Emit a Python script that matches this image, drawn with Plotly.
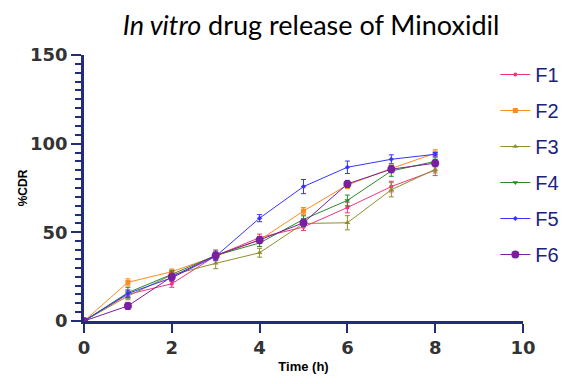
import plotly.graph_objects as go

time_h = [0, 1, 2, 3, 4, 5, 6, 7, 8]
names = ["F1", "F2", "F3", "F4", "F5", "F6"]
f1 = [0, 15, 21, 36.8, 47, 53, 64, 75.8, 85]
f2 = [0, 21.8, 27.8, 36.5, 45.7, 62, 76.7, 86, 94.6]
f3 = [0, 14, 26, 32.5, 38.5, 55, 55.4, 74, 85.5]
f4 = [0, 16, 26.3, 37, 44, 57.3, 68, 84.6, 90]
f5 = [0, 15.5, 24.4, 36.5, 58, 75.8, 86.7, 91.2, 94]
f6 = [0, 8.5, 25, 37, 45.7, 55.4, 77.3, 85.6, 89]
e1 = [0, 2, 2, 2, 2, 2, 3, 3, 3]
e2 = [0, 2, 1.5, 2, 2, 2, 2, 2, 2]
e3 = [0, 2, 2, 3, 2.5, 2, 4, 4, 2]
e4 = [0, 3, 2, 2, 2, 2, 3, 3, 2]
e5 = [0, 2, 2, 2, 2, 4, 3.5, 2.5, 1]
e6 = [0, 2, 2, 3, 2, 2, 2, 2, 2]

series = [f1, f2, f3, f4, f5, f6]
errors = [e1, e2, e3, e4, e5, e6]
colors = ["#f2347f", "#ff8a1f", "#8f8f2a", "#2a8a2a", "#3535ff", "#7b1fa2"]
symbols = ["circle", "square", "triangle-up", "triangle-down", "diamond", "circle"]
sizes = [4, 5, 5, 5, 4, 8]

fig = go.Figure()
for n, ys, er, c, s, sz in zip(names, series, errors, colors, symbols, sizes):
    fig.add_trace(go.Scatter(
        x=time_h, y=ys, name=n, mode="lines+markers", legendgroup=n,
        line=dict(color=c, width=1),
        marker=dict(color=c, symbol=s, size=sz),
        error_y=dict(type="data", array=er, color=c, thickness=1, width=2.5),
    ))

axis_color = "#232c7a"
fig.update_layout(
    width=575, height=384,
    margin=dict(l=76, r=60, t=47, b=71, autoexpand=False),
    paper_bgcolor="white", plot_bgcolor="white",
    title=dict(text="<i>In vitro</i> drug release of Minoxidil",
               x=0.527, xanchor="center", y=0.955, yanchor="middle",
               font=dict(family="Lato", size=27, color="black")),
    legend=dict(x=0.937, xanchor="left", y=1.0, yanchor="top",
                font=dict(family="Liberation Sans", size=20, color="#1a237e"),
                tracegroupgap=7, bgcolor="rgba(0,0,0,0)", itemwidth=30),
    showlegend=True,
)
fig.update_xaxes(
    range=[0, 10], tickvals=[0, 2, 4, 6, 8, 10], automargin=False,
    showline=True, linecolor=axis_color, linewidth=2.5,
    ticks="outside", ticklen=9, tickwidth=2, tickcolor=axis_color,
    showgrid=False, zeroline=False,
    tickfont=dict(family="DejaVu Sans", size=18, color="#333333", weight="bold"),
    title=dict(text="<b>Time (h)</b>", font=dict(family="Liberation Sans", size=13, color="black"), standoff=5),
)
fig.update_yaxes(
    range=[0, 150], tickvals=[0, 50, 100, 150], automargin=False,
    showline=True, linecolor=axis_color, linewidth=2.5,
    ticks="outside", ticklen=10, tickwidth=2, tickcolor=axis_color,
    minor=dict(dtick=5, ticks="outside", ticklen=6, tickwidth=2, tickcolor=axis_color, showgrid=False),
    showgrid=False, zeroline=False,
    tickfont=dict(family="DejaVu Sans", size=18, color="#333333", weight="bold"),
    title=dict(text="<b>%CDR</b>", font=dict(family="Liberation Sans", size=12, color="black"), standoff=0),
)
fig.write_html("out.html")
